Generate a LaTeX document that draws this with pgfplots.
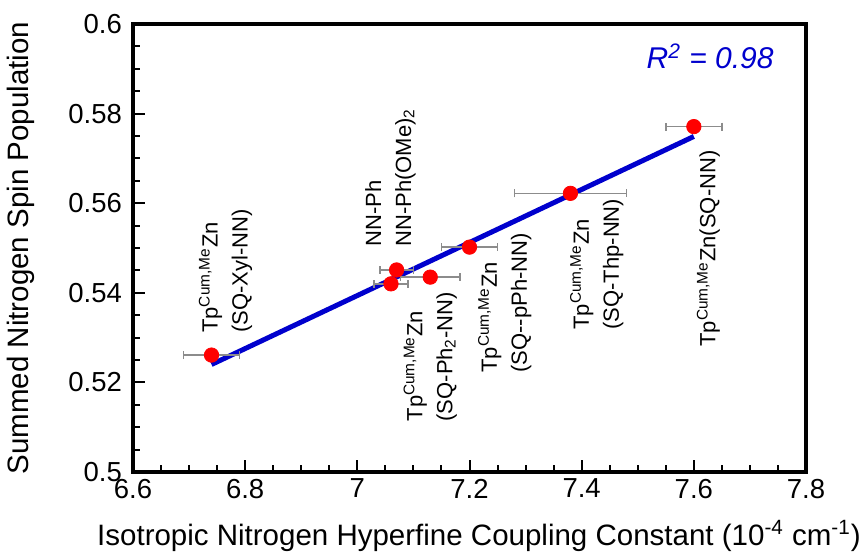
\documentclass[border=0pt]{standalone}
\usepackage{pgfplots}
\pgfplotsset{compat=1.18}
\usepackage{fontspec}
\setmainfont{Liberation Sans}
\definecolor{fitblue}{RGB}{0,0,205}
\definecolor{errgray}{RGB}{140,140,140}

\begin{document}
\begin{tikzpicture}
\begin{axis}[
  name=ax,
  scale only axis,
  width=336.5pt, height=224pt,
  xmin=6.6, xmax=7.8, ymin=0.5, ymax=0.6,
  xtick={6.6,6.8,7.0,7.2,7.4,7.6,7.8},
  ytick={0.5,0.52,0.54,0.56,0.58,0.6},
  minor x tick num=3, minor y tick num=3,
  xtick pos=bottom, ytick pos=left,
  tick align=inside,
  major tick length=6pt, minor tick length=3.5pt,
  every tick/.style={black, line width=1pt},
  axis line style={line width=1.75pt},
  /pgf/number format/assume math mode=true,
  /pgf/number format/fixed,
  /pgf/number format/precision=2,
  tick label style={font=\fontsize{13.75}{16}\selectfont},
  yticklabel style={xshift=-2pt},
  xlabel={Isotropic Nitrogen Hyperfine Coupling Constant (10\textsuperscript{-4} cm\textsuperscript{-1})},
  ylabel={Summed Nitrogen Spin Population},
  label style={font=\fontsize{14.75}{17}\selectfont},
  xlabel style={at={(axis description cs:0.514,-0.178)}, anchor=south, inner sep=0pt},
  ylabel style={at={(axis description cs:-0.1456,0.5)}, anchor=south, inner sep=0pt},
  clip=false,
]
% least-squares fit line
\addplot[fitblue, line width=2.5pt] coordinates {(6.74,0.5240) (7.6,0.5749)};

% measured points with x uncertainties
\addplot[only marks, mark=*, mark size=3.6pt, mark options={fill=red, draw=red},
  error bars/.cd, x dir=both, x explicit,
  error bar style={errgray, line width=0.75pt},
  error mark options={errgray, rotate=90, mark size=2pt, line width=0.75pt}]
  coordinates {
    (6.74,0.5261) +- (0.05,0)
    (7.06,0.5420) +- (0.03,0)
    (7.07,0.5451) +- (0.03,0)
    (7.13,0.5435) +- (0.053,0)
    (7.20,0.5502) +- (0.05,0)
    (7.38,0.5622) +- (0.10,0)
    (7.60,0.5771) +- (0.05,0)
  };

% compound labels
\begin{scope}[every node/.style={rotate=90, anchor=west, align=left, inner sep=0pt,
    font=\fontsize{11}{15}\selectfont}]
  \node at (axis cs:6.765,0.5310) {Tp\textsuperscript{Cum,Me}Zn\\(SQ-Xyl-NN)};
  \node at (axis cs:7.059,0.5502) {NN-Ph\\NN-Ph(OMe)\textsubscript{2}};
  \node at (axis cs:7.130,0.5112) {Tp\textsuperscript{Cum,Me}Zn\\(SQ-Ph\textsubscript{2}-NN)};
  \node at (axis cs:7.263,0.5221) {Tp\textsuperscript{Cum,Me}Zn\\(SQ-{}-pPh-NN)};
  \node at (axis cs:7.427,0.5317) {Tp\textsuperscript{Cum,Me}Zn\\(SQ-Thp-NN)};
  \node at (axis cs:7.626,0.5279) {Tp\textsuperscript{Cum,Me}Zn(SQ-NN)};
\end{scope}

\node[anchor=base east, inner sep=0pt, text=fitblue, font=\fontsize{15}{18}\selectfont\itshape]
  at (axis cs:7.743,0.590) {R\textsuperscript{2} = 0.98};
\end{axis}
\pgfresetboundingbox
\path[use as bounding box] ([xshift=-66.5pt,yshift=-40.5pt]ax.south west)
  rectangle ([xshift=28pt,yshift=12pt]ax.north east);
\end{tikzpicture}
\end{document}
